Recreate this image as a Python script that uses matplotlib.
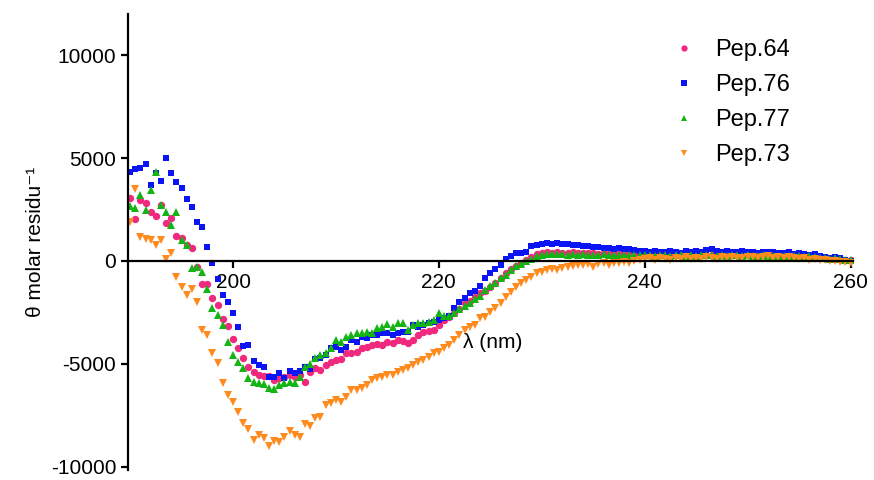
import numpy as np
import matplotlib.pyplot as plt

plt.rcParams['font.family'] = ['Liberation Sans', 'DejaVu Sans']
plt.rcParams['axes.unicode_minus'] = False

# wavelength grid, 0.5 nm steps from 190 to 260 nm
wavelength = np.arange(190, 260.01, 0.5)

pep64 = [
    3060, 2040, 2960, 2820, 2380, 2180, 2720, 1840, 2090, 1210,
    1120, 780, 630, -290, -1120, -1120, -1800, -2140, -2820, -3160,
    -3790, -4220, -4710, -5150, -5390, -5530, -5580, -5580, -5780, -5680,
    -5630, -5530, -5630, -5530, -5870, -5390, -5190, -5290, -5050, -4900,
    -4810, -4760, -4470, -4470, -4420, -4220, -4170, -4080, -4030, -4080,
    -3930, -3980, -3830, -3880, -3980, -3830, -3590, -3450, -3400, -3350,
    -3110, -2860, -2720, -2520, -2330, -2040, -1940, -1750, -1550, -1460,
    -1260, -1070, -830, -580, -390, -240, -100, 50, 190, 340,
    380, 420, 400, 440, 410, 390, 420, 380, 400, 370,
    390, 360, 380, 350, 370, 340, 360, 330, 350, 320,
    340, 310, 330, 300, 320, 290, 310, 280, 300, 320,
    290, 310, 280, 300, 330, 290, 310, 280, 300, 270,
    290, 310, 280, 300, 330, 280, 260, 290, 250, 280,
    240, 210, 230, 190, 160, 140, 120, 100, 80, 50,
    30,
]

pep76 = [
    4320, 4470, 4510, 4710, 3690, 4270, 3880, 5000, 4270, 3830,
    3540, 3010, 2620, 1890, 1650, 680, -100, -870, -1650, -1990,
    -2520, -3200, -4130, -4080, -4850, -5050, -5150, -5630, -5630, -5440,
    -5680, -5340, -5440, -5340, -5150, -5240, -4760, -4710, -4560, -4220,
    -4170, -4320, -4170, -3830, -3930, -3690, -3740, -3590, -3590, -3500,
    -3500, -3590, -3500, -3450, -3450, -3110, -3200, -3110, -3010, -2960,
    -2860, -2770, -2670, -2300, -1990, -1800, -1550, -1450, -1210, -820,
    -580, -390, -190, 100, 240, 390, 390, 440, 730, 780,
    830, 870, 830, 870, 830, 830, 780, 780, 730, 730,
    680, 680, 630, 650, 600, 620, 570, 560, 540, 500,
    480, 430, 500, 450, 420, 470, 430, 400, 460, 420,
    470, 430, 510, 560, 470, 440, 500, 450, 430, 470,
    420, 440, 400, 450, 420, 430, 400, 380, 420, 360,
    390, 340, 300, 330, 260, 200, 150, 180, 120, 60,
    20,
]

pep77 = [
    2670, 2570, 3200, 2480, 3450, 4320, 2720, 2380, 1750, 2380,
    1020, 780, -340, -290, -530, -1360, -2280, -2620, -3110, -3930,
    -4560, -4900, -5190, -5680, -5870, -5920, -5970, -6160, -6210, -6020,
    -5920, -5870, -5920, -5630, -5150, -5000, -4710, -4560, -4470, -4220,
    -3830, -3930, -3690, -3590, -3500, -3500, -3450, -3500, -3250, -3200,
    -3060, -3200, -3010, -3010, -3350, -3110, -3010, -3010, -2960, -2860,
    -2520, -2670, -2670, -2520, -2330, -2180, -2040, -1840, -1700, -1410,
    -1210, -1070, -830, -680, -440, -240, -150, 0, 100, 240,
    300, 330, 350, 320, 340, 310, 330, 300, 320, 290,
    310, 300, 330, 290, 310, 300, 280, 310, 290, 300,
    270, 290, 260, 300, 280, 250, 290, 270, 260, 290,
    260, 280, 300, 270, 250, 280, 260, 290, 270, 250,
    280, 260, 240, 270, 250, 230, 260, 240, 220, 250,
    230, 200, 220, 180, 150, 160, 110, 130, 80, 60,
    30,
]

pep73 = [
    1890, 3500, 1170, 1070, 1020, 780, 1020, 100, 390, -780,
    -1260, -1650, -1360, -1990, -3350, -3590, -4470, -4950, -5920, -6500,
    -6840, -7330, -7860, -8150, -8690, -8450, -8590, -8980, -8740, -8790,
    -8540, -8250, -8450, -8540, -7910, -8010, -7620, -7570, -6990, -6890,
    -6750, -6840, -6600, -6260, -6260, -6160, -6020, -5780, -5680, -5630,
    -5530, -5530, -5390, -5290, -5190, -5050, -4900, -4810, -4660, -4470,
    -4420, -4220, -4080, -3830, -3590, -3350, -3200, -3110, -2770, -2720,
    -2480, -2280, -2040, -1750, -1500, -1260, -1070, -920, -780, -580,
    -530, -440, -390, -440, -340, -290, -240, -190, -190, -150,
    -290, -150, -100, -190, -100, -100, -50, -100, 0, 50,
    80, 120, 60, 150, 100, 70, 140, 90, 180, 110,
    150, 100, 200, 140, 110, 170, 130, 190, 150, 120,
    170, 200, 140, 180, 230, 160, 190, 130, 170, 140,
    100, 130, 60, 90, 40, 70, 0, 20, -30, -50,
    -80,
]

series = [
    ('Pep.64', pep64, 'o', '#F0287E', 5.3),
    ('Pep.76', pep76, 's', '#0A14F5', 5.0),
    ('Pep.77', pep77, '^', '#14B414', 5.5),
    ('Pep.73', pep73, 'v', '#FF8A1E', 5.5),
]

fig = plt.figure(figsize=(8.74, 4.8), dpi=100)
ax = fig.add_axes([0.1465, 0.021, 0.829, 0.95])

for name, vals, mk, col, ms in series:
    ax.plot(wavelength, vals, linestyle='none', marker=mk, color=col,
            markersize=ms, markeredgewidth=0, label=name)

ax.set_xlim(189.8, 260.2)
ax.set_ylim(-10150, 12000)
ax.set_xticks([200, 220, 240, 260])
ax.set_yticks([-10000, -5000, 0, 5000, 10000])

ax.spines['top'].set_visible(False)
ax.spines['right'].set_visible(False)
ax.spines['bottom'].set_position(('data', 0))
for s in ('left', 'bottom'):
    ax.spines[s].set_linewidth(1.6)
ax.tick_params(direction='out', length=5, width=1.6, labelsize=15)

ax.set_ylabel('θ molar residu⁻¹', fontsize=15)
ax.text(225.2, -3980, 'λ (nm)', ha='center', va='center', fontsize=15)

ax.legend(loc='upper left', bbox_to_anchor=(0.745, 0.962),
          bbox_transform=fig.transFigure, frameon=False, fontsize=17,
          markerscale=0.85, handlelength=1.0, handletextpad=0.8,
          labelspacing=0.55)

fig.savefig('out.png', dpi=100)
